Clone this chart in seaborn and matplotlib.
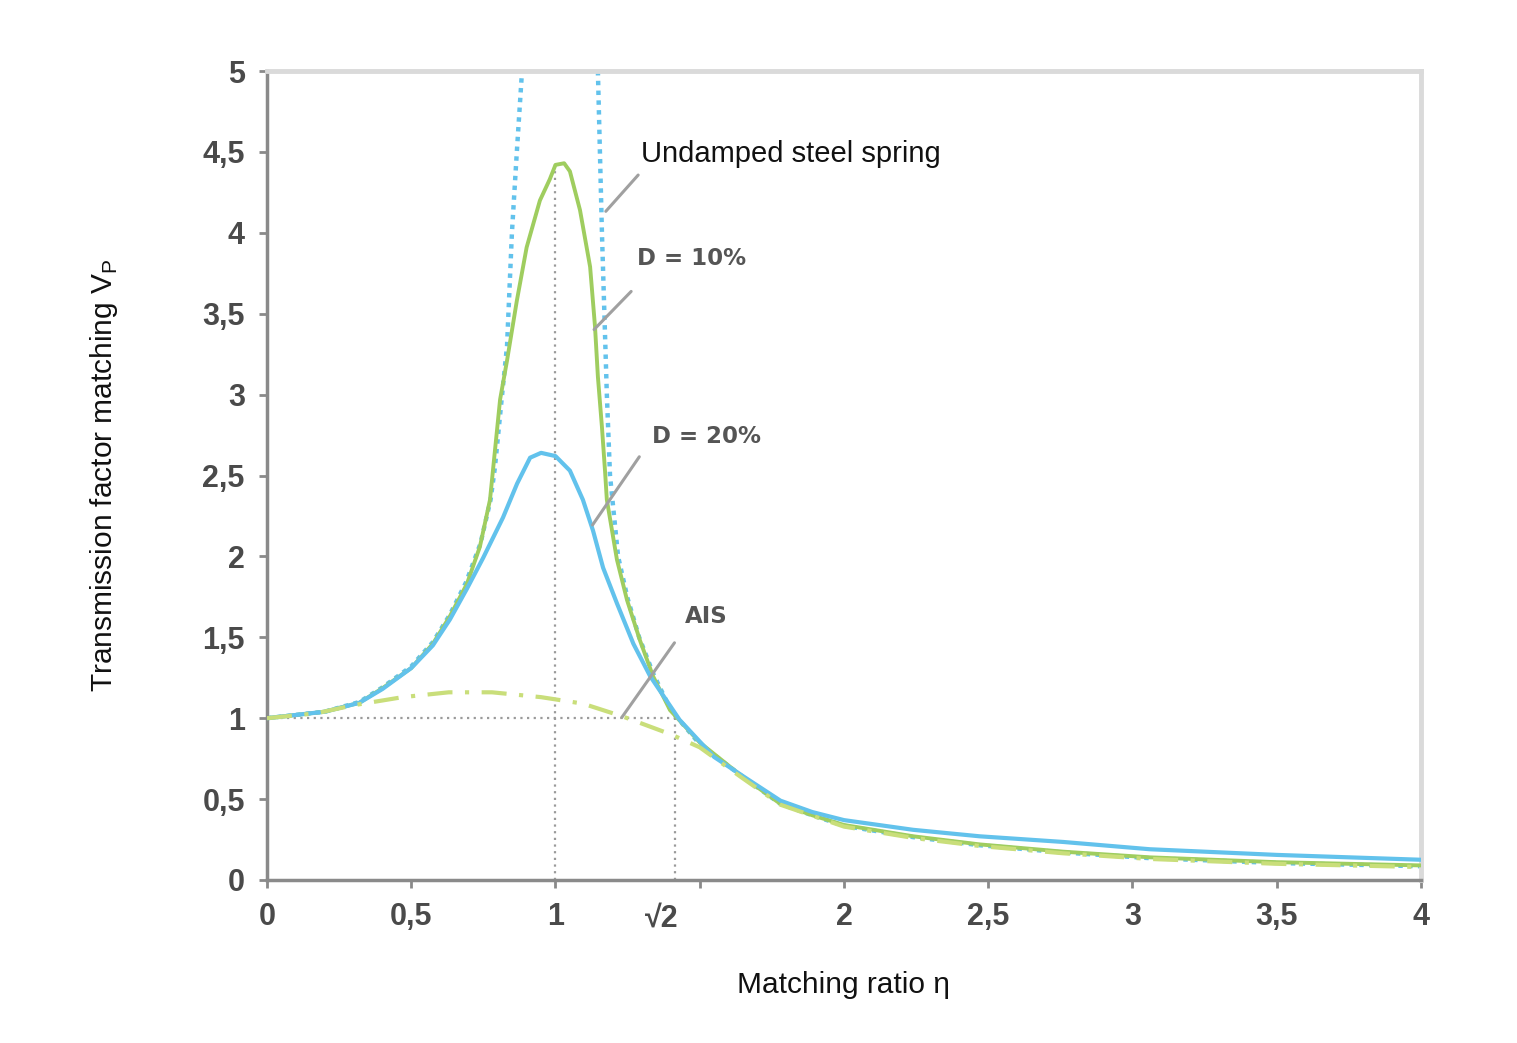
import numpy as np
import pandas as pd
import seaborn as sns
import matplotlib.pyplot as plt
from matplotlib.ticker import FixedLocator

# values
undamped_left_x = [0.0, 0.2, 0.32, 0.40, 0.50, 0.575, 0.634, 0.69, 0.74, 0.775, 0.79, 0.815, 0.832, 0.849, 0.866, 0.884]
undamped_left_y = [1.0, 1.04, 1.10, 1.19, 1.32, 1.47, 1.64, 1.84, 2.08, 2.35, 2.55, 3.0, 3.3, 4.0, 4.5, 5.0]
undamped_right_x = [1.147, 1.161, 1.178, 1.189, 1.217, 1.25, 1.29, 1.34, 1.40, 1.50, 1.64, 1.78, 1.89, 2.0,
                    2.24, 2.47, 2.76, 3.06, 3.5, 4.0]
undamped_right_y = [5.0, 4.0, 3.0, 2.5, 2.0, 1.74, 1.50, 1.27, 1.05, 0.84, 0.65, 0.47, 0.40, 0.335,
                    0.265, 0.215, 0.17, 0.135, 0.105, 0.085]

d10_x = [0.0, 0.2, 0.32, 0.40, 0.50, 0.575, 0.634, 0.693, 0.738, 0.773, 0.808, 0.832, 0.866, 0.90, 0.946, 0.98,
         1.0, 1.03, 1.05, 1.085, 1.12, 1.137, 1.147, 1.161, 1.172, 1.178, 1.213, 1.248, 1.293, 1.338, 1.397,
         1.50, 1.64, 1.78, 1.89, 2.0, 2.24, 2.47, 2.76, 3.06, 3.5, 4.0]
d10_y = [1.0, 1.04, 1.095, 1.185, 1.31, 1.46, 1.63, 1.83, 2.06, 2.35, 2.97, 3.21, 3.58, 3.91, 4.2, 4.33,
         4.42, 4.43, 4.38, 4.14, 3.79, 3.42, 3.11, 2.80, 2.52, 2.35, 1.98, 1.73, 1.48, 1.26, 1.05,
         0.85, 0.65, 0.47, 0.40, 0.34, 0.27, 0.22, 0.175, 0.14, 0.11, 0.09]

d20_x = [0.0, 0.2, 0.32, 0.40, 0.50, 0.575, 0.634, 0.693, 0.749, 0.818, 0.867, 0.912, 0.95, 1.0, 1.05, 1.095,
         1.13, 1.165, 1.213, 1.27, 1.328, 1.43, 1.55, 1.66, 1.78, 1.89, 2.0, 2.24, 2.47, 2.76, 3.06, 3.5, 4.0]
d20_y = [1.0, 1.04, 1.095, 1.18, 1.31, 1.45, 1.61, 1.80, 1.99, 2.24, 2.45, 2.61, 2.64, 2.62, 2.53, 2.35,
         2.16, 1.93, 1.71, 1.46, 1.26, 0.99, 0.76, 0.63, 0.49, 0.42, 0.37, 0.31, 0.27, 0.235, 0.19, 0.155, 0.125]

ais_x = [0.0, 0.17, 0.3, 0.47, 0.63, 0.78, 0.95, 1.095, 1.234, 1.40, 1.5, 1.64, 1.78, 2.0, 2.24, 2.47, 2.76, 3.06, 3.5, 4.0]
ais_y = [1.0, 1.03, 1.08, 1.13, 1.16, 1.16, 1.13, 1.09, 1.01, 0.90, 0.82, 0.64, 0.465, 0.33, 0.26, 0.21, 0.165, 0.13, 0.10, 0.08]

x_ticks = [0, 0.5, 1, 1.5, 2, 2.5, 3, 3.5, 4]
x_ticklabels = ["0", "0,5", "1", "", "2", "2,5", "3", "3,5", "4"]
y_ticks = [0, 0.5, 1, 1.5, 2, 2.5, 3, 3.5, 4, 4.5, 5]
y_ticklabels = ["0", "0,5", "1", "1,5", "2", "2,5", "3", "3,5", "4", "4,5", "5"]

sns.set_style("white")
plt.rcParams["font.family"] = ["Liberation Sans", "DejaVu Sans"]

fig = plt.figure(figsize=(15.17, 10.43), dpi=100)
ax = fig.add_axes([0.176, 0.1563, 0.7607, 0.7756])

blue = "#62c2ec"
green = "#9fcd5f"
ais_col = "#c9de7a"
ref_gray = "#9a9a9a"

# reference dotted lines
ax.plot([0, np.sqrt(2)], [1, 1], color=ref_gray, ls=(0, (1, 2)), lw=1.6, zorder=1)
ax.plot([1, 1], [0, 4.45], color=ref_gray, ls=(0, (1, 2)), lw=1.6, zorder=1)
ax.plot([np.sqrt(2), np.sqrt(2)], [0, 1], color=ref_gray, ls=(0, (1, 2)), lw=1.6, zorder=1)

sns.lineplot(x=undamped_left_x, y=undamped_left_y, ax=ax, color=blue, lw=3.2, ls=(0, (1, 1.2)), sort=False, zorder=2)
sns.lineplot(x=undamped_right_x, y=undamped_right_y, ax=ax, color=blue, lw=3.2, ls=(0, (1, 1.2)), sort=False, zorder=2)
sns.lineplot(x=d10_x, y=d10_y, ax=ax, color=green, lw=2.8, sort=False, zorder=3)
sns.lineplot(x=d20_x, y=d20_y, ax=ax, color=blue, lw=3.0, sort=False, zorder=3)
sns.lineplot(x=ais_x, y=ais_y, ax=ax, color=ais_col, lw=3.0, ls=(0, (6, 3, 1, 3)), sort=False, zorder=4)

ax.set_xlim(0, 4)
ax.set_ylim(0, 5)
ax.xaxis.set_major_locator(FixedLocator(x_ticks))
ax.set_xticklabels(x_ticklabels)
ax.yaxis.set_major_locator(FixedLocator(y_ticks))
ax.set_yticklabels(y_ticklabels)
ax.tick_params(axis="both", which="major", direction="out", length=6, width=2,
               color="#8a8a8a", labelsize=22, labelcolor="#4a4a4a", pad=10,
               bottom=True, left=True)
for lab in ax.get_xticklabels() + ax.get_yticklabels():
    lab.set_fontweight("bold")
ax.text(1.37, -0.24, "√2", ha="center", va="center", fontsize=22, fontweight="bold",
        color="#4a4a4a", transform=ax.transData, clip_on=False)

for side in ["left", "bottom"]:
    ax.spines[side].set_color("#8a8a8a")
    ax.spines[side].set_linewidth(2.5)
for side in ["top", "right"]:
    ax.spines[side].set_color("#dadada")
    ax.spines[side].set_linewidth(3.5)

ax.set_xlabel("Matching ratio η", fontsize=21.5, color="#111111")
ax.set_ylabel("Transmission factor matching V$_\\mathregular{P}$", fontsize=21.5, color="#111111")
ax.xaxis.set_label_coords(0.5, -0.112)
ax.yaxis.set_label_coords(-0.127, 0.5)

# annotations with leader lines
lead = dict(arrowstyle="-", color="#a0a0a0", lw=2.2)
ax.annotate("", xy=(1.168, 4.12), xytext=(1.293, 4.37), arrowprops=lead)
ax.text(1.296, 4.49, "Undamped steel spring", fontsize=21, color="#111111", va="center", ha="left")
ax.annotate("", xy=(1.127, 3.39), xytext=(1.269, 3.65), arrowprops=lead)
ax.text(1.283, 3.84, "D = 10%", fontsize=16.5, fontweight="bold", color="#555555",
        va="center", ha="left", family="DejaVu Sans")
ax.annotate("", xy=(1.123, 2.18), xytext=(1.296, 2.63), arrowprops=lead)
ax.text(1.335, 2.74, "D = 20%", fontsize=16.5, fontweight="bold", color="#555555",
        va="center", ha="left", family="DejaVu Sans")
ax.annotate("", xy=(1.224, 0.99), xytext=(1.418, 1.48), arrowprops=lead)
ax.text(1.449, 1.63, "AIS", fontsize=16.5, fontweight="bold", color="#555555",
        va="center", ha="left", family="DejaVu Sans")

fig.savefig("out.png", dpi=100)
